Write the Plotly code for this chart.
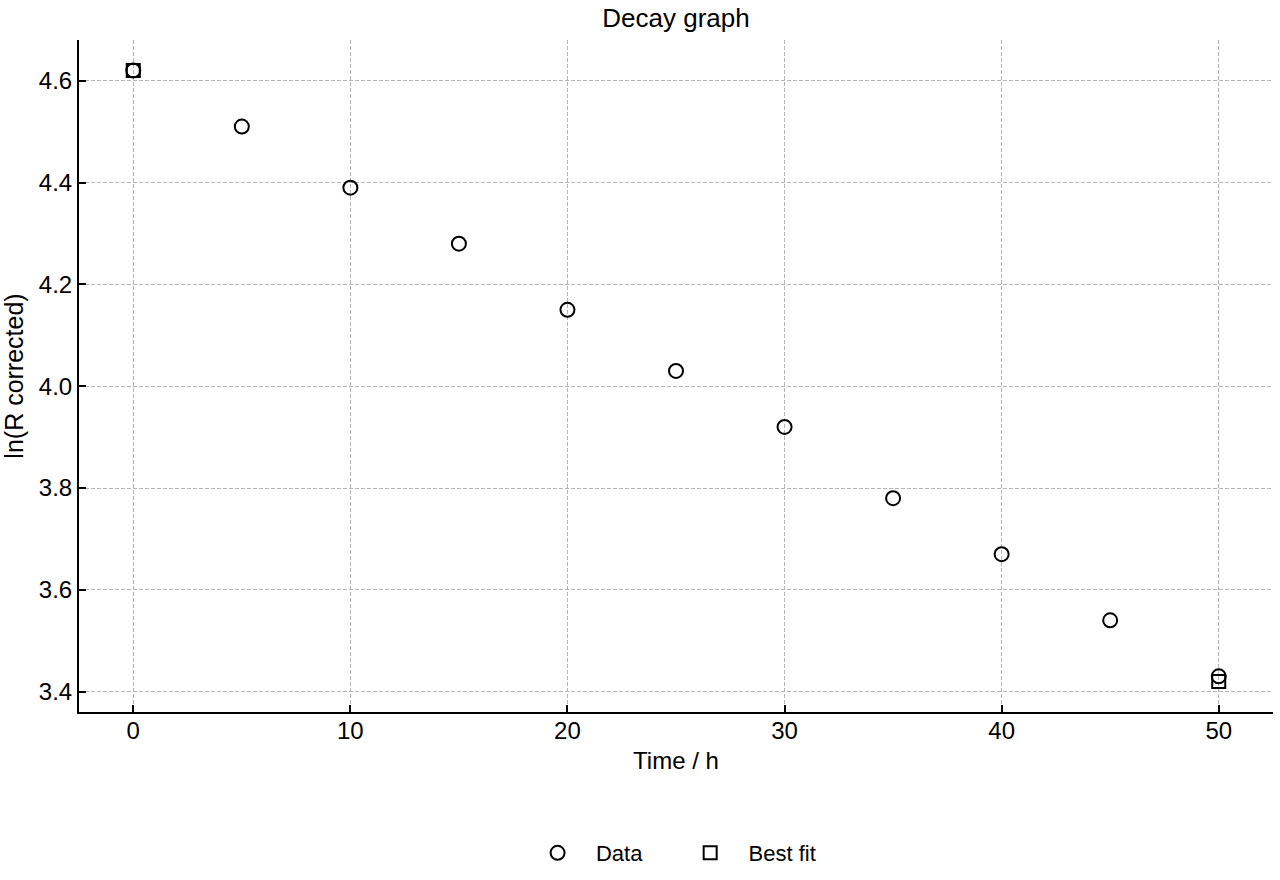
import plotly.graph_objects as go

time_h = [0, 5, 10, 15, 20, 25, 30, 35, 40, 45, 50]
ln_r = [4.62, 4.51, 4.39, 4.28, 4.15, 4.03, 3.92, 3.78, 3.67, 3.54, 3.43]
fit_t = [0, 50]
fit_y = [4.62, 3.42]

x_ticks = [0, 10, 20, 30, 40, 50]
y_ticks = [3.4, 3.6, 3.8, 4.0, 4.2, 4.4, 4.6]

FONT = "Liberation Sans, Arial, Helvetica, sans-serif"
NB = "\u00a0"

fig = go.Figure()
fig.add_trace(go.Scatter(
    x=time_h, y=ln_r, mode="markers", name=NB * 3 + "Data" + NB * 7,
    marker=dict(symbol="circle-open", size=14, color="black", line=dict(width=2, color="black")),
))
fig.add_trace(go.Scatter(
    x=fit_t, y=fit_y, mode="markers", name=NB * 3 + "Best fit",
    marker=dict(symbol="square-open", size=13, color="black", line=dict(width=2, color="black")),
))

axis_common = dict(
    showline=True, linecolor="black", linewidth=2, mirror=False,
    ticks="inside", ticklen=7, tickwidth=2, tickcolor="black",
    showgrid=True, gridcolor="#b4b4b4", gridwidth=1, griddash="4px,2px",
    zeroline=False, tickfont=dict(size=24, color="black", family=FONT),
    automargin=False,
)

fig.update_layout(
    width=1280, height=880,
    paper_bgcolor="white", plot_bgcolor="white",
    font=dict(family=FONT, size=24, color="black"),
    title=dict(text="Decay graph", x=0.5, xanchor="center", xref="paper",
               y=1 - 18 / 880, yref="container", yanchor="middle",
               font=dict(size=26, family=FONT)),
    margin=dict(l=79, r=7, t=40, b=167),
    xaxis=dict(range=[-2.5, 52.5], tickvals=x_ticks, ticklabelstandoff=-4,
               title=dict(text="Time / h", font=dict(size=24), standoff=9), **axis_common),
    yaxis=dict(range=[3.36, 4.68], tickvals=y_ticks, tickformat=".1f",
               title=dict(text="ln(R corrected)", font=dict(size=25), standoff=10), **axis_common),
    legend=dict(orientation="h", x=0.503, xanchor="center", y=-0.208, yanchor="middle",
                font=dict(size=22), traceorder="normal"),
    showlegend=True,
)

fig.write_html("out.html", config={"displayModeBar": False},
               post_script="document.body.style.margin='0';")
